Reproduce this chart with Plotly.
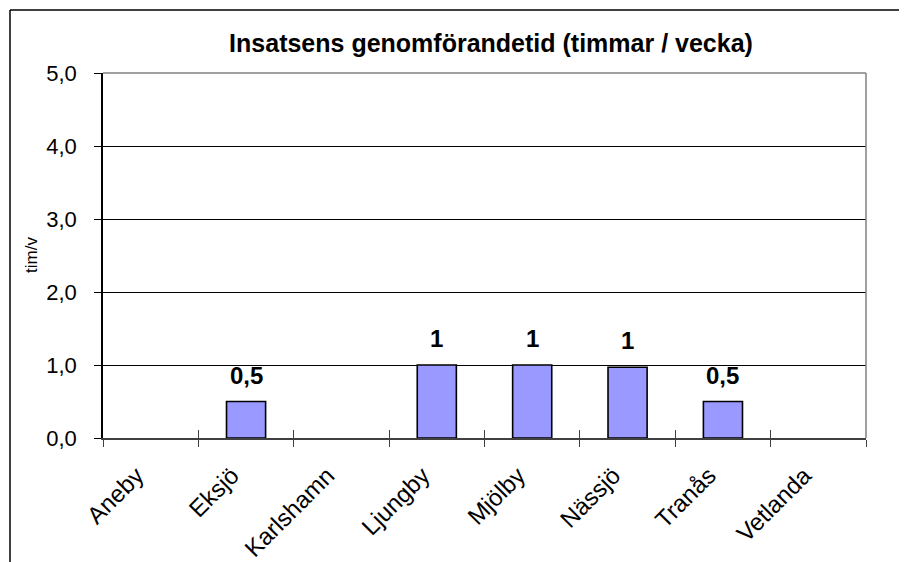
import plotly.graph_objects as go

categories = ["Aneby", "Eksjö", "Karlshamn", "Ljungby", "Mjölby", "Nässjö", "Tranås", "Vetlanda"]
values = [0, 0.5, 0, 1.0, 1.0, 0.97, 0.5, 0]
labels = ["", "0,5", "", "1", "1", "1", "0,5", ""]
y_ticks = [0, 1, 2, 3, 4, 5]
title_text = "Insatsens genomförandetid (timmar / vecka)"
y_title = "tim/v"

FONT = "Liberation Sans, Arial, sans-serif"

OFF = 8  # page body margin
W, H = 907 - OFF, 562 - OFF
L, R, T, B = 103 - OFF, 866 - OFF, 73 - OFF, 438 - OFF
pw, ph = R - L, B - T

fig = go.Figure()
fig.add_trace(go.Bar(
    x=categories, y=values, width=0.41,
    marker=dict(color="#9999FF",
                line=dict(color="black", width=[1.6 if v > 0 else 0 for v in values])),
    hoverinfo="skip", showlegend=False,
))
# invisible trace to carry the overlay axis used for inward tick marks
fig.add_trace(go.Bar(
    x=categories, y=values, xaxis="x2", opacity=0, width=0.41,
    hoverinfo="skip", showlegend=False,
))

for c, v, t in zip(categories, values, labels):
    if t:
        fig.add_annotation(x=c, y=v, text="<b>%s</b>" % t, showarrow=False,
                           yanchor="bottom", yshift=11,
                           font=dict(family=FONT, size=24, color="black"))

fig.add_annotation(text=y_title, textangle=-90, showarrow=False,
                   xref="paper", yref="paper",
                   x=(32 - OFF - L) / pw, y=(B - (255 - OFF)) / ph,
                   xanchor="center", yanchor="middle",
                   font=dict(family=FONT, size=17, color="black"))

# plot-area border (gray top and right)
fig.add_shape(type="line", xref="paper", yref="paper", x0=0, x1=1, y0=1, y1=1,
              line=dict(color="#808080", width=1.5), layer="above")
fig.add_shape(type="line", xref="paper", yref="paper", x0=1, x1=1, y0=0, y1=1,
              line=dict(color="#808080", width=1.5), layer="above")
# outer frame (top and left)
fx = (10 - OFF - L) / pw
fy = (B - (10 - OFF)) / ph
fig.add_shape(type="line", xref="paper", yref="paper",
              x0=fx, x1=(W + 5 - L) / pw, y0=fy, y1=fy,
              line=dict(color="black", width=1.5))
fig.add_shape(type="line", xref="paper", yref="paper",
              x0=fx, x1=fx, y0=fy, y1=(B - H - 5) / ph,
              line=dict(color="black", width=1.5))

fig.update_layout(
    width=W, height=H,
    margin=dict(l=L, r=W - R, t=T, b=H - B, autoexpand=False),
    paper_bgcolor="white", plot_bgcolor="white",
    separators=", ",
    title=dict(text="<b>%s</b>" % title_text, x=(491 - OFF - L) / pw, xref="paper",
               xanchor="center", y=1 - (43 - OFF) / H, yanchor="middle",
               font=dict(family=FONT, size=25, color="black")),
    font=dict(family=FONT, color="black"),
    xaxis=dict(
        type="category", categoryorder="array", categoryarray=categories,
        range=[-0.5, 7.5], tickson="boundaries", automargin=False,
        ticks="outside", ticklen=7, tickwidth=1, tickcolor="#404040",
        showline=True, linecolor="#404040", linewidth=2,
        showgrid=False, tickangle=-45,
        ticklabelstandoff=12, ticklabelshift=-14,
        tickfont=dict(family=FONT, size=24, color="black"),
    ),
    xaxis2=dict(
        type="category", categoryorder="array", categoryarray=categories,
        overlaying="x", anchor="y", side="bottom", automargin=False,
        range=[-0.5, 7.5], tickson="boundaries",
        ticks="inside", ticklen=8, tickwidth=1, tickcolor="#404040",
        showticklabels=False, showgrid=False, showline=False,
    ),
    yaxis=dict(
        range=[0, 5], tickvals=y_ticks, tickformat=".1f", automargin=False,
        ticks="outside", ticklen=7, tickwidth=1, tickcolor="black",
        showline=True, linecolor="black", linewidth=1.5,
        showgrid=True, gridcolor="black", gridwidth=1, zeroline=False,
        ticklabelstandoff=13,
        tickfont=dict(family=FONT, size=22, color="black"),
    ),
)

fig.write_html("out.html")
